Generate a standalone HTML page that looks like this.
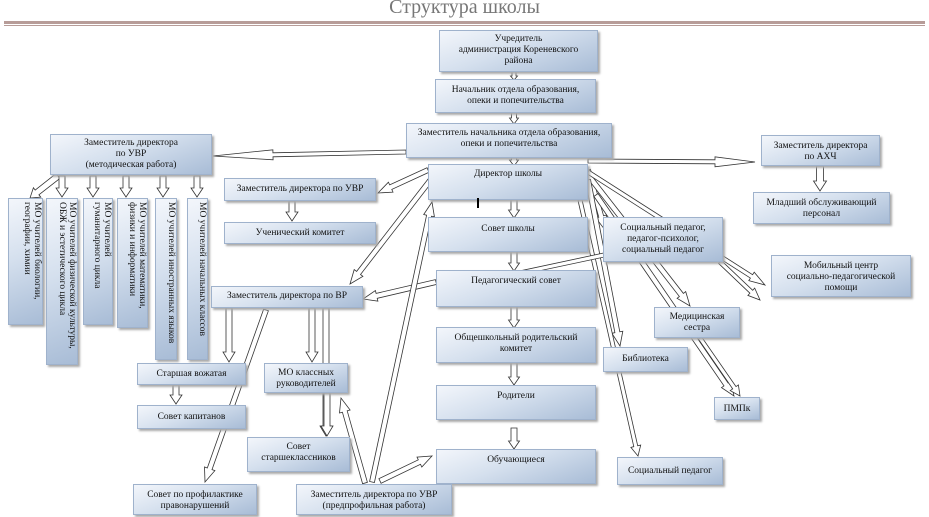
<!DOCTYPE html>
<html><head><meta charset="utf-8"><style>
html,body{margin:0;padding:0;background:#fff;}
body{width:929px;height:517px;position:relative;overflow:hidden;font-family:"Liberation Serif",serif;}
.t{position:absolute;left:0;width:929px;top:-4px;text-align:center;font-size:20px;color:#777;font-family:"Liberation Serif",serif;}
.l1{position:absolute;left:4px;right:4px;top:21px;height:3px;background:#b79c98;}
.l2{position:absolute;left:4px;right:4px;top:25px;height:1px;background:#b79c98;}
.b{position:absolute;box-sizing:border-box;background:linear-gradient(160deg,#f3f6fb 0%,#d5e0ee 45%,#a8bcd6 100%);border:1px solid #9fb2cc;box-shadow:2px 2px 2px #aaa;font-size:9.5px;line-height:11px;text-align:center;color:#111;padding-top:3px;}
.v{writing-mode:vertical-rl;padding:3px 0 0 0;text-align:left;line-height:10px;}
svg{position:absolute;left:0;top:0;}
</style></head><body>
<div class="t">Структура школы</div>
<div class="l1"></div><div class="l2"></div>
<svg id="s" width="929" height="517"></svg>

<div class="b" style="left:439px;top:30px;width:159px;height:42px;">Учредитель<br>администрация Кореневского<br>района</div>
<div class="b" style="left:435px;top:79px;width:161px;height:34px;padding-top:5px;">Начальник отдела образования,<br>опеки и попечительства</div>
<div class="b" style="left:406px;top:123px;width:206px;height:35px;padding-top:4px;">Заместитель начальника отдела образования,<br>опеки и попечительства</div>
<div class="b" style="left:428px;top:164px;width:160px;height:36px;padding-top:4px;">Директор школы</div>
<div class="b" style="left:428px;top:217px;width:160px;height:35px;padding-top:6px;">Совет школы</div>
<div class="b" style="left:436px;top:270px;width:160px;height:37px;padding-top:5px;">Педагогический совет</div>
<div class="b" style="left:436px;top:327px;width:160px;height:36px;padding-top:5px;">Общешкольный родительский<br>комитет</div>
<div class="b" style="left:436px;top:385px;width:160px;height:35px;padding-top:5px;">Родители</div>
<div class="b" style="left:436px;top:449px;width:160px;height:35px;padding-top:5px;">Обучающиеся</div>
<div class="b" style="left:761px;top:135px;width:119px;height:31px;padding-top:5px;">Заместитель директора<br>по АХЧ</div>
<div class="b" style="left:753px;top:192px;width:137px;height:32px;padding-top:5px;">Младший обслуживающий<br>персонал</div>
<div class="b" style="left:603px;top:217px;width:120px;height:45px;padding-top:5px;">Социальный педагог,<br>педагог-психолог,<br>социальный педагог</div>
<div class="b" style="left:771px;top:255px;width:140px;height:42px;padding-top:5px;">Мобильный центр<br>социально-педагогической<br>помощи</div>
<div class="b" style="left:654px;top:307px;width:86px;height:31px;padding-top:4px;">Медицинская<br>сестра</div>
<div class="b" style="left:603px;top:347px;width:85px;height:25px;padding-top:6px;">Библиотека</div>
<div class="b" style="left:714px;top:397px;width:46px;height:23px;padding-top:6px;">ПМПк</div>
<div class="b" style="left:617px;top:457px;width:106px;height:28px;padding-top:8px;">Социальный педагог</div>
<div class="b" style="left:50px;top:134px;width:162px;height:41px;">Заместитель директора<br>по УВР<br>(методическая работа)</div>
<div class="b v" style="left:8px;top:198px;width:35px;height:127px;">МО учителей биологии,<br>географии, химии</div>
<div class="b v" style="left:46px;top:198px;width:32px;height:167px;">МО учителей физической культуры,<br>ОБЖ и эстетического цикла</div>
<div class="b v" style="left:83px;top:198px;width:30px;height:127px;">МО учителей<br>гуманитарного цикла</div>
<div class="b v" style="left:117px;top:198px;width:31px;height:130px;">МО учителей математики,<br>физики и информатики</div>
<div class="b v" style="left:155px;top:198px;width:22px;height:162px;">МО учителей иностранных языков</div>
<div class="b v" style="left:187px;top:198px;width:21px;height:162px;">МО учителей начальных классов</div>
<div class="b" style="left:224px;top:178px;width:152px;height:23px;padding-top:5px;">Заместитель директора по УВР</div>
<div class="b" style="left:224px;top:222px;width:152px;height:22px;padding-top:5px;">Ученический комитет</div>
<div class="b" style="left:211px;top:286px;width:152px;height:22px;padding-top:4px;">Заместитель директора по ВР</div>
<div class="b" style="left:137px;top:363px;width:109px;height:22px;padding-top:5px;">Старшая вожатая</div>
<div class="b" style="left:137px;top:405px;width:109px;height:24px;padding-top:6px;">Совет капитанов</div>
<div class="b" style="left:264px;top:363px;width:84px;height:30px;padding-top:4px;">МО классных<br>руководителей</div>
<div class="b" style="left:247px;top:437px;width:103px;height:35px;padding-top:4px;">Совет<br>старшеклассников</div>
<div class="b" style="left:133px;top:484px;width:124px;height:31px;padding-top:5px;">Совет по профилактике<br>правонарушений</div>
<div class="b" style="left:296px;top:484px;width:156px;height:31px;padding-top:5px;">Заместитель директора по УВР<br>(предпрофильная работа)</div>
<div style="position:absolute;left:477px;top:198px;width:2px;height:10px;background:#000;"></div>

<script>
var s=document.getElementById('s');
function A(x1,y1,x2,y2,sw,hw,hl){
 sw=sw||6;hw=hw||12;hl=hl||10;
 var dx=x2-x1,dy=y2-y1,L=Math.sqrt(dx*dx+dy*dy);if(L<1)return;
 var ux=dx/L,uy=dy/L,px=-uy,py=ux;if(hl>L*0.8)hl=L*0.8;
 var bx=x2-ux*hl,by=y2-uy*hl;
 var p=[[x1+px*sw/2,y1+py*sw/2],[bx+px*sw/2,by+py*sw/2],[bx+px*hw/2,by+py*hw/2],[x2,y2],[bx-px*hw/2,by-py*hw/2],[bx-px*sw/2,by-py*sw/2],[x1-px*sw/2,y1-py*sw/2]];
 var e=document.createElementNS('http://www.w3.org/2000/svg','polygon');
 e.setAttribute('points',p.map(function(q){return q[0].toFixed(1)+','+q[1].toFixed(1)}).join(' '));
 e.setAttribute('fill','#fff');e.setAttribute('stroke','#333');e.setAttribute('stroke-width','0.8');
 s.appendChild(e);
}
A(514,71,514,80,4,7,4);A(514,112,514,124,5,9,6);A(514,157,514,166,5,9,6);
A(514,199,514,218,6,11,8);A(514,251,514,271,6,11,8);A(514,306,514,328,6,11,8);
A(514,362,514,385,6,11,8);A(514,428,514,449,6,11,8);
A(406,152,213,156,4,10,60);
A(588,161,755,162,4,10,40);
A(820,166,820,191,7,13,10);
A(58,176,30,198,6,12,9);
[62,93,126,163,197].forEach(function(x){A(x,176,x,197,6,12,9);});
A(428,170,378,193,5,11,14);
A(292,201,292,221,6,12,9);
A(432,178,350,284,5,11,14);
A(436,282,363,299,5,11,14);
A(229,308,229,362,6,12,10);
A(176,385,176,404,6,12,9);
A(266,310,205,482,5,11,14);
A(312,308,312,362,6,12,10);
A(326,308,326,436,6,12,10);
A(327,393,327,436,6,12,10);
A(328,451,328,462,5,9,5);
A(365,483,341,398,5,11,14);
A(372,482,432,202,5,11,14);
A(380,481,432,456,5,11,14);
A(588,170,605,230,5,11,14);
A(588,175,690,306,5,11,14);
A(588,172,765,285,4,10,16);
A(588,180,620,346,5,11,14);
A(596,195,734,396,5,11,14);
A(580,200,638,456,4,10,10);
A(604,255,440,290,4,10,14);
A(720,262,760,300,4,10,12);
A(700,338,740,396,4,10,10);
</script>
</body></html>
